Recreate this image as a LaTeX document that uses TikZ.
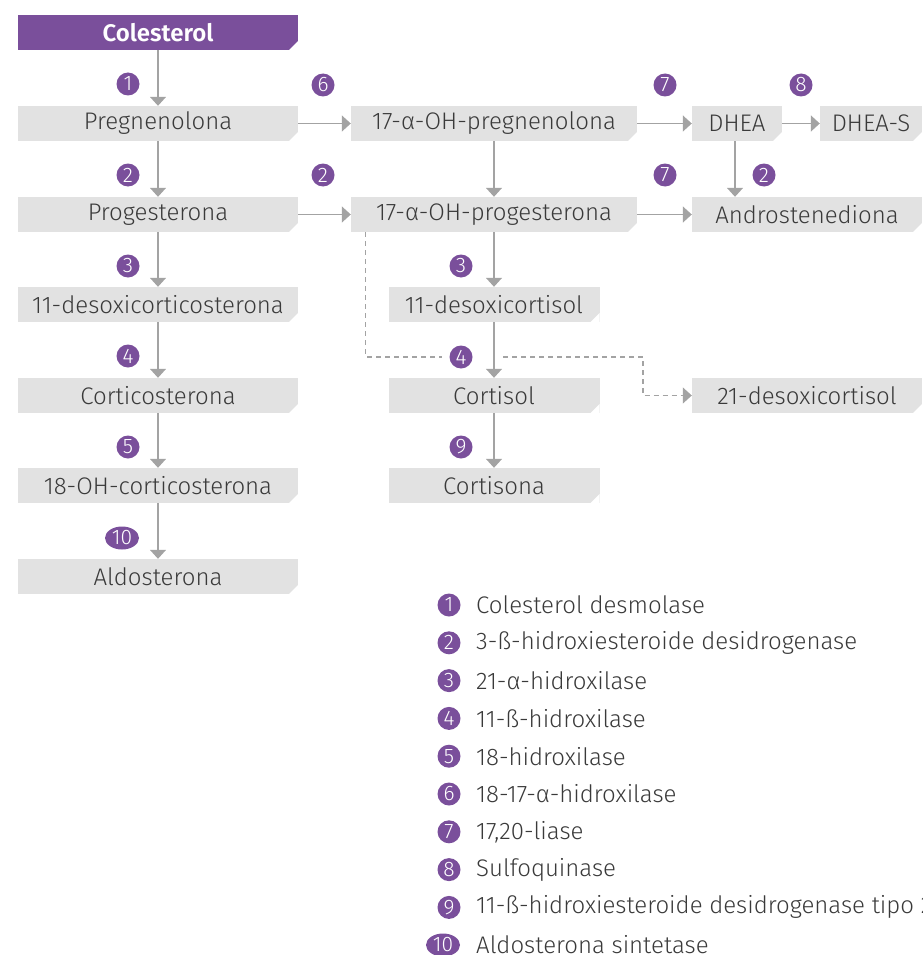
\documentclass[tikz,border=0pt]{standalone}
\usepackage{fontspec}
\setmainfont{Fira Sans}[UprightFont=* Light, BoldFont=* SemiBold]
\usetikzlibrary{arrows.meta, shapes.geometric}

\definecolor{roxo}{HTML}{7A4F9B}
\definecolor{cinza}{HTML}{E2E2E2}
\definecolor{cinzaseta}{HTML}{A3A3A3}
\definecolor{texto}{HTML}{3A3A3A}

\begin{document}
\begin{tikzpicture}[x=1pt, y=-1pt,
    every node/.style={font=\fontsize{24}{26}\selectfont, text=texto},
    caixa/.style={fill=cinza, minimum height=35pt, inner sep=0pt,
        path picture={\fill[white] ([xshift=-9pt]path picture bounding box.south east)
            -- (path picture bounding box.south east)
            -- ([yshift=9pt]path picture bounding box.south east) -- cycle;}},
    enz/.style={circle, fill=roxo, minimum size=23pt, inner sep=0pt,
        text=white, font=\fontsize{21}{21}\selectfont},
    enzdez/.style={enz, ellipse, minimum width=34pt, minimum height=23pt},
    seta/.style={draw=cinzaseta, line width=1.5pt, -{Triangle[width=16pt,length=9pt]}},
    tracejado/.style={draw=cinzaseta, line width=1.2pt, dash pattern=on 5pt off 4pt}]

    \useasboundingbox (0,0) rectangle (922,955);

    % coluna da esquerda
    \node[caixa, fill=roxo, minimum width=280pt, text=white, font=\fontsize{24}{26}\selectfont\bfseries] (col) at (158,32.5) {Colesterol};
    \node[caixa, minimum width=280pt] (preg) at (158,123.5) {Pregnenolona};
    \node[caixa, minimum width=280pt] (prog) at (158,214.5) {Progesterona};
    \node[caixa, minimum width=280pt] (doc) at (158,304.5) {11-desoxicorticosterona};
    \node[caixa, minimum width=280pt] (cort) at (158,395.5) {Corticosterona};
    \node[caixa, minimum width=280pt] (ohc) at (158,485.5) {18-OH-corticosterona};
    \node[caixa, minimum width=280pt] (aldo) at (158,576.5) {Aldosterona};

    % coluna do meio
    \node[caixa, minimum width=286pt] (p17) at (494,123.5) {17-α-OH-pregnenolona};
    \node[caixa, minimum width=286pt] (pg17) at (494,214.5) {17-α-OH-progesterona};
    \node[caixa, minimum width=211pt] (dx11) at (494,304.5) {11-desoxicortisol};
    \node[caixa, minimum width=211pt] (ctsl) at (494,395.5) {Cortisol};
    \node[caixa, minimum width=211pt] (ctsn) at (494,485.5) {Cortisona};

    % coluna da direita
    \node[caixa, minimum width=90pt] (dhea) at (737,123.5) {DHEA};
    \node[caixa, minimum width=102pt] (dheas) at (871,123.5) {DHEA-S};
    \node[caixa, minimum width=230pt] (andro) at (807,214.5) {Androstenediona};
    \node[caixa, minimum width=230pt] (dx21) at (807,395.5) {21-desoxicortisol};

    % setas
    \draw[seta] (col) -- (preg);
    \draw[seta] (preg) -- (prog);
    \draw[seta] (prog) -- (doc);
    \draw[seta] (doc) -- (cort);
    \draw[seta] (cort) -- (ohc);
    \draw[seta] (ohc) -- (aldo);
    \draw[seta] (preg) -- (p17);
    \draw[seta] (prog) -- (pg17);
    \draw[seta] (p17) -- (pg17);
    \draw[seta] (pg17) -- (dx11);
    \draw[seta] (dx11) -- (ctsl);
    \draw[seta] (ctsl) -- (ctsn);
    \draw[seta] (p17) -- (dhea);
    \draw[seta] (dhea) -- (dheas);
    \draw[seta] (pg17) -- (andro);
    \draw[seta] ([xshift=-2pt]dhea.south) -- ([xshift=-2pt]dhea.south |- andro.north);

    % enzimas
    \node[enz] (e1) at (128,84) {1};
    \node[enz] (e2a) at (128,175) {2};
    \node[enz] (e3a) at (128,266) {3};
    \node[enz] (e4a) at (128,356) {4};
    \node[enz] (e5) at (128,447) {5};
    \node[enzdez] (e10) at (122,538) {10};
    \node[enz] (e6) at (323,85) {6};
    \node[enz] (e2b) at (323,175) {2};
    \node[enz] (e7a) at (665,85) {7};
    \node[enz] (e8) at (801,85) {8};
    \node[enz] (e7b) at (665,175) {7};
    \node[enz] (e2c) at (764,175) {2};
    \node[enz] (e3b) at (461,266) {3};
    \node[enz] (e4b) at (461,357) {4};
    \node[enz] (e9) at (461,447) {9};

    % via tracejada
    \coordinate (t1) at (503,357);
    \coordinate (t2) at (643,357);
    \draw[tracejado] ([xshift=15pt]pg17.south west) |- ([xshift=-7pt]e4b.west);
    \draw[tracejado, -{Triangle[width=16pt,length=9pt]}] (t1) -- (t2) |- (dx21.west);

    % legenda
    \foreach \n/\nome in {1/Colesterol desmolase,
                          2/3-ß-hidroxiesteroide desidrogenase,
                          3/21-α-hidroxilase,
                          4/11-ß-hidroxilase,
                          5/18-hidroxilase,
                          6/18-17-α-hidroxilase,
                          7/{17,20-liase},
                          8/Sulfoquinase,
                          9/11-ß-hidroxiesteroide desidrogenase tipo 2}
    {
        \node[enz] (leg\n) at (449,{605+37.8*(\n-1)}) {\n};
        \node[anchor=west, inner sep=0pt] (nome\n) at (476,{605+37.8*(\n-1)}) {\nome};
    }
    \node[enzdez] (leg10) at (443,945) {10};
    \node[anchor=west, inner sep=0pt] (nome10) at (476,945) {Aldosterona sintetase};
\end{tikzpicture}
\end{document}
